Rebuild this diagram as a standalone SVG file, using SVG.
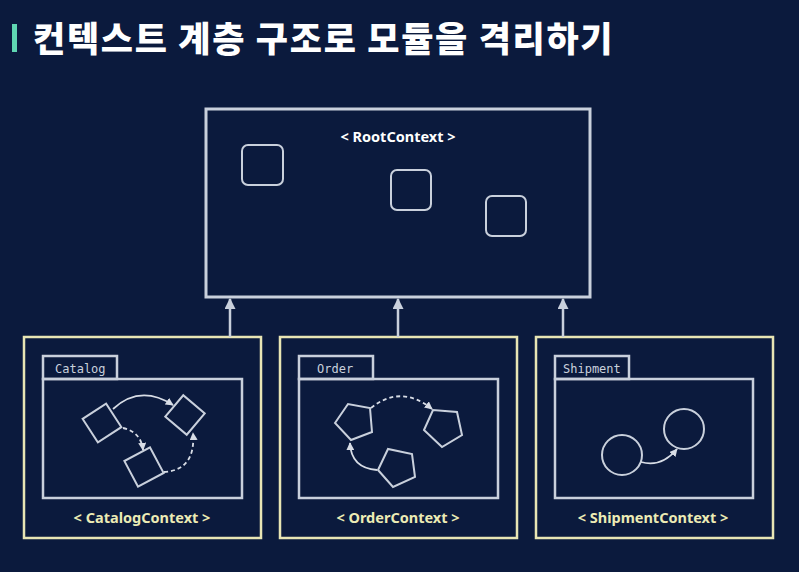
<svg xmlns="http://www.w3.org/2000/svg" width="799" height="572" viewBox="0 0 799 572">
<defs>
<style>
.bg{fill:#0b1a3d}
.title{font-family:"Noto Sans CJK KR","Noto Sans",sans-serif;font-weight:900;font-size:35px;letter-spacing:1.7px;fill:#ffffff}
.root{fill:none;stroke:#c9d0dc;stroke-width:3}
.mod{fill:none;stroke:#c9d0dc;stroke-width:2}
.ctx{fill:none;stroke:#e8e5b4;stroke-width:2.5}
.inner{fill:none;stroke:#c9d0dc;stroke-width:2.5}
.lbl{font-family:"Noto Sans","DejaVu Sans",sans-serif;font-weight:700;font-size:14.5px;text-anchor:middle}
.tab{font-family:"DejaVu Sans Mono","Liberation Mono",monospace;font-size:12px;fill:#c9d0dc}
.link{fill:none;stroke:#d8dde6;stroke-width:1.8}
.dash{stroke-dasharray:4 3}
.up{stroke:#c9d0dc;stroke-width:2.5}
</style>
<marker id="ah" viewBox="0 0 10 10" refX="9" refY="5" markerWidth="8" markerHeight="8" markerUnits="userSpaceOnUse" orient="auto">
<path d="M0,0 L10,5 L0,10 Z" fill="#d8dde6"/>
</marker>
<marker id="up" viewBox="0 0 10 10" refX="9" refY="5" markerWidth="11" markerHeight="11" markerUnits="userSpaceOnUse" orient="auto">
<path d="M0,0 L10,5 L0,10 Z" fill="#c9d0dc"/>
</marker>
</defs>
<rect class="bg" x="0" y="0" width="799" height="572"/>
<rect x="12" y="24" width="5" height="28" fill="#5fd6b2"/>
<text class="title" x="33" y="52">컨텍스트 계층 구조로 모듈을 격리하기</text>

<g id="root-context">
<rect class="root" x="206" y="109" width="384" height="188"/>
<text class="lbl" x="398" y="142" fill="#ffffff">&lt; RootContext &gt;</text>
<rect class="mod" x="242" y="145" width="41" height="40" rx="6"/>
<rect class="mod" x="391" y="170" width="40" height="40" rx="6"/>
<rect class="mod" x="486" y="196" width="40" height="40" rx="6"/>
</g>

<g id="catalog-context">
<rect class="ctx" x="24" y="337" width="237" height="201"/>
<rect class="inner" x="43" y="356" width="74" height="23"/>
<text class="tab" x="55" y="373">Catalog</text>
<rect class="inner" x="43" y="379" width="199" height="119"/>
<rect class="mod" x="-14" y="-14" width="28" height="28" transform="translate(102,423) rotate(-33)"/>
<rect class="mod" x="-14" y="-14" width="28" height="28" transform="translate(185,415) rotate(-50)"/>
<rect class="mod" x="-14.5" y="-14.5" width="29" height="29" transform="translate(144,467) rotate(-28)"/>
<text class="lbl" x="142" y="523" fill="#ecebb5">&lt; CatalogContext &gt;</text>
</g>

<g id="order-context">
<rect class="ctx" x="280" y="337" width="237" height="201"/>
<rect class="inner" x="299" y="356" width="74" height="23"/>
<text class="tab" x="317" y="373">Order</text>
<rect class="inner" x="299" y="379" width="199" height="119"/>
<polygon class="mod" points="335,423 348,404 370,408 372,432 351,440"/>
<polygon class="mod" points="424,430 433,410 457,412 462,435 442,447"/>
<polygon class="mod" points="378,470 388,449 412,454 415,477 393,487"/>
<text class="lbl" x="398" y="523" fill="#ecebb5">&lt; OrderContext &gt;</text>
</g>

<g id="shipment-context">
<rect class="ctx" x="536" y="337" width="237" height="201"/>
<rect class="inner" x="555" y="356" width="74" height="23"/>
<text class="tab" x="563" y="373">Shipment</text>
<rect class="inner" x="555" y="379" width="198" height="119"/>
<circle class="mod" cx="622" cy="455" r="20"/>
<circle class="mod" cx="684" cy="429" r="20"/>
<text class="lbl" x="653" y="523" fill="#ecebb5">&lt; ShipmentContext &gt;</text>
</g>

<g id="connectors">
<line class="up" x1="230" y1="337" x2="230" y2="299" marker-end="url(#up)"/>
<line class="up" x1="398" y1="337" x2="398" y2="299" marker-end="url(#up)"/>
<line class="up" x1="563" y1="337" x2="563" y2="299" marker-end="url(#up)"/>
<path class="link" d="M113,409 Q140,384 173,405" marker-end="url(#ah)"/>
<path class="link dash" d="M123,428 Q141,432 143,450" marker-end="url(#ah)"/>
<path class="link dash" d="M164,472 Q196,470 193,433" marker-end="url(#ah)"/>
<path class="link dash" d="M371,408 Q401,384 432,409" marker-end="url(#ah)"/>
<path class="link" d="M377,470 Q351,468 350,443" marker-end="url(#ah)"/>
<path class="link" d="M641,462 Q661,468 677,449" marker-end="url(#ah)"/>
</g>
</svg>
